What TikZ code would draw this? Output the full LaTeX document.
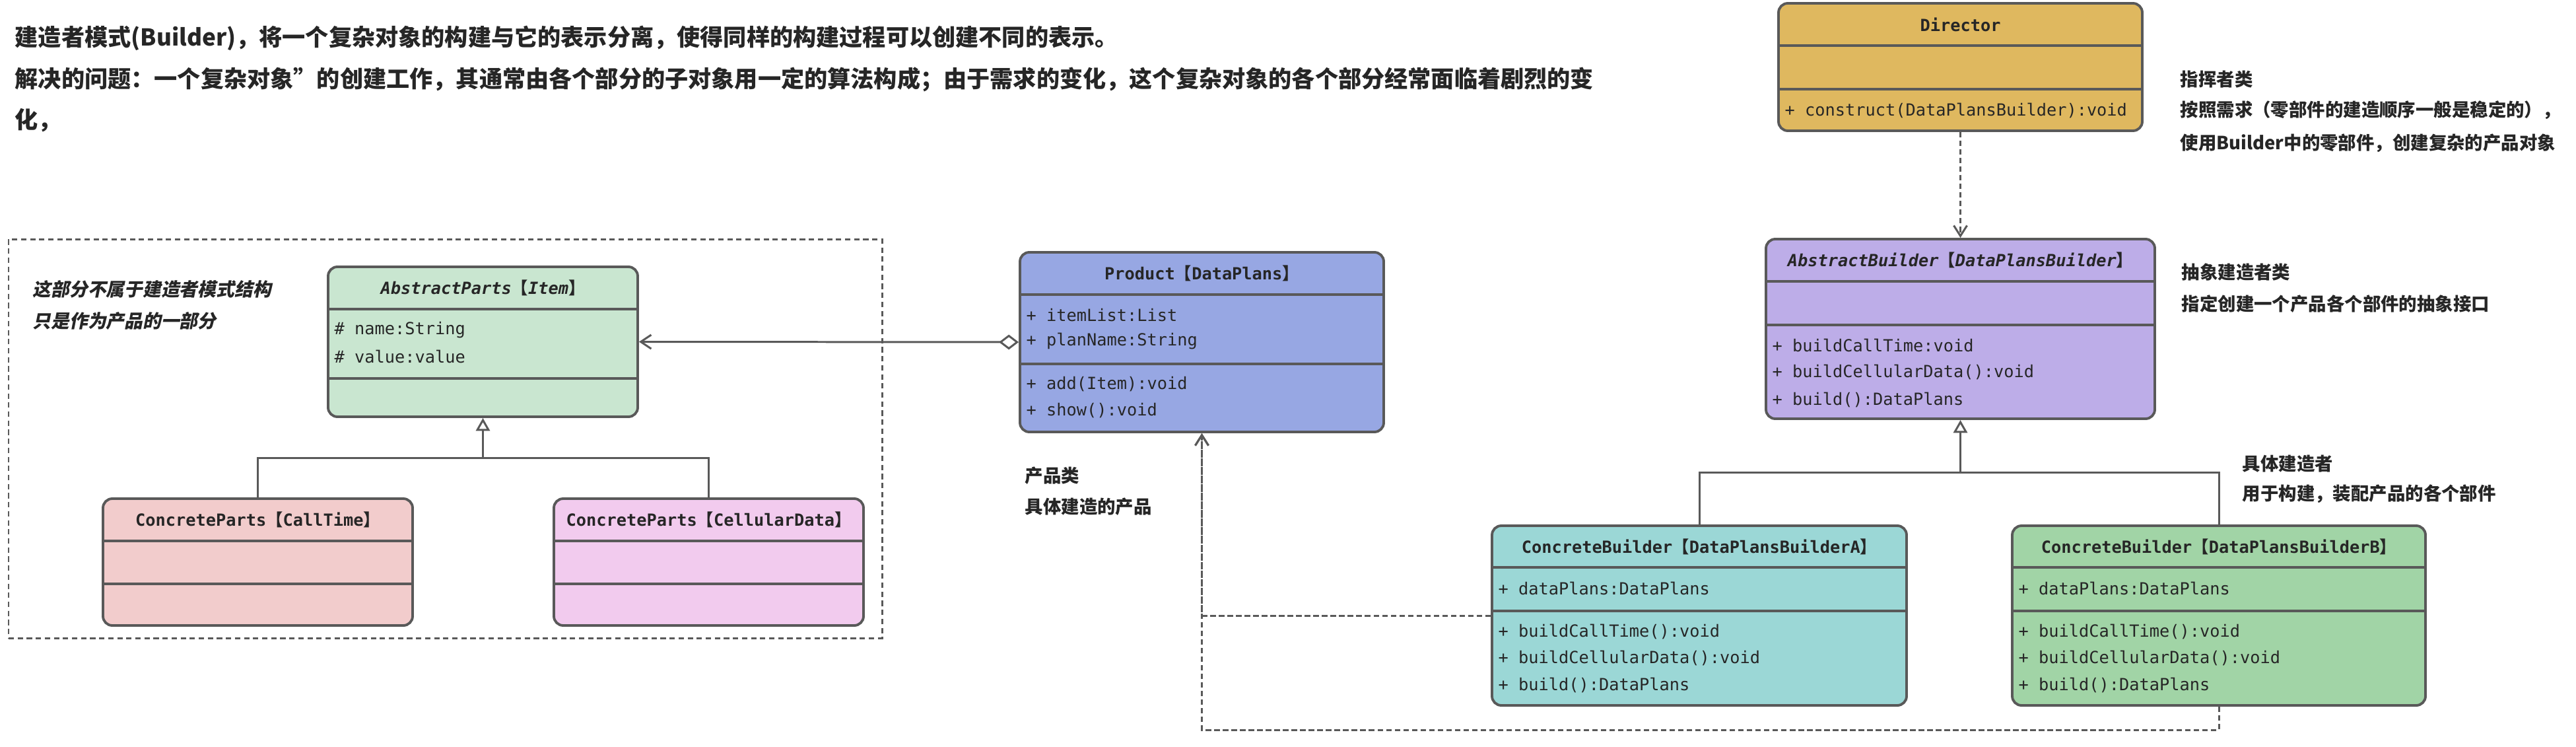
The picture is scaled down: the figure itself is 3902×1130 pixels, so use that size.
\documentclass[tikz,border=0pt]{standalone}
\usepackage{fontspec}
\setmainfont{Noto Sans CJK SC}
\setmonofont{DejaVu Sans Mono}
\newfontfamily\cjkslant{Noto Sans CJK SC}[FakeSlant=0.2]
\usetikzlibrary{arrows.meta, fit, calc}
\definecolor{ink}{HTML}{262626}
\definecolor{wire}{HTML}{595959}
\definecolor{directorfill}{HTML}{DFB85F}
\definecolor{partsfill}{HTML}{C9E6D0}
\definecolor{calltimefill}{HTML}{F2CCCC}
\definecolor{cellularfill}{HTML}{F2CBEE}
\definecolor{productfill}{HTML}{97A7E3}
\definecolor{builderfill}{HTML}{BDADE8}
\definecolor{builderafill}{HTML}{9BD7D6}
\definecolor{builderbfill}{HTML}{A1D4A6}
\tikzset{
  %
  umlframe/.style={draw=wire, line width=1.1pt, rounded corners=4pt, inner sep=0pt},
  umlrule/.style={draw=wire, line width=1.1pt},
  umlhead/.style={font=\ttfamily\bfseries\fontsize{7.2}{8.6}\selectfont, text=ink, inner sep=0pt},
  member/.style={font=\ttfamily\fontsize{7.2}{8.6}\selectfont, text=ink, anchor=west, inner sep=0pt},
  %
  title/.style={font=\bfseries\fontsize{10}{12}\selectfont, text=ink, anchor=west, inner sep=0pt},
  note/.style={font=\bfseries\fontsize{7.8}{9}\selectfont, text=ink, anchor=west, inner sep=0pt},
  groupnote/.style={note, font=\cjkslant\bfseries\fontsize{7.9}{9}\selectfont},
  group/.style={draw=wire, line width=0.85pt, dash pattern=on 2.3pt off 1.6pt, inner sep=0pt},
  %
  dep/.style={draw=wire, line width=0.85pt, dash pattern=on 2.4pt off 1.3pt,
              -{Straight Barb[length=4.5pt, width=5.7pt]}},
  assoc/.style={draw=wire, line width=0.85pt,
                {Diamond[fill=white, length=8.5pt, width=6.5pt]}-{Straight Barb[length=4.5pt, width=6pt]}},
  genline/.style={draw=wire, line width=0.85pt},
  gen/.style={genline, -{Triangle[fill=white, length=5.5pt, width=6pt]}},
}
\newcommand{\lbk}{{\rmfamily 【}}
\newcommand{\rbk}{{\rmfamily 】}}
% name, fill, left, top, right, bottom, first rule, second rule, header
\newcommand{\umlclass}[9]{%
  \node[umlframe, fill=#2, fit={(#3,#4) (#5,#6)}] (#1) {};
  \draw[umlrule] (#3,#7) -- (#5,#7);
  \draw[umlrule] (#3,#8) -- (#5,#8);
  \node[umlhead] (#1-head) at ({(#3+#5)/2},{(#4+#7)/2}) {#9};
}

\begin{document}
\begin{tikzpicture}[x=0.01cm, y=-0.01cm]

  \useasboundingbox (0,0) rectangle (3902,1130);

  % ---- intro ------------------------------------------------------------
  \node[title] (intro1) at (22,58) {建造者模式(Builder)，将一个复杂对象的构建与它的表示分离，使得同样的构建过程可以创建不同的表示。};
  \node[title] (intro2) at (22,120) {解决的问题：一个复杂对象\symbol{34}的创建工作，其通常由各个部分的子对象用一定的算法构成；由于需求的变化，这个复杂对象的各个部分经常面临着剧烈的变};
  \node[title] (intro3) at (22,182) {化，};

  % ---- parts (outside the pattern) --------------------------------------
  \node[group, fit={(13,362) (1336,966)}] (partsgroup) {};
  \node[groupnote] (groupnote1) at (49,438) {这部分不属于建造者模式结构};
  \node[groupnote] (groupnote2) at (49,486) {只是作为产品的一部分};

  \umlclass{parts}{partsfill}{497}{404}{966}{631}{468}{573}{\itshape AbstractParts\lbk Item\rbk}
  \node[member] (parts-a1) at (506,500) {\# name:String};
  \node[member] (parts-a2) at (506,540) {\# value:value};

  \umlclass{calltime}{calltimefill}{156}{755}{625}{947}{819}{884}{ConcreteParts\lbk CallTime\rbk}
  \umlclass{cellular}{cellularfill}{839}{755}{1308}{947}{819}{884}{ConcreteParts\lbk CellularData\rbk}

  \coordinate (partsjoint) at (parts.south |- 0,693);
  \draw[genline] (calltime.north) |- (partsjoint) -| (cellular.north);
  \draw[gen] (partsjoint) -- (parts.south);

  % ---- product ----------------------------------------------------------
  \umlclass{product}{productfill}{1545}{382}{2096}{654}{446}{551}{Product\lbk DataPlans\rbk}
  \node[member] (product-a1) at (1554,477) {+ itemList:List};
  \node[member] (product-a2) at (1554,517) {+ planName:String};
  \node[member] (product-m1) at (1554,582) {+ add(Item):void};
  \node[member] (product-m2) at (1554,622) {+ show():void};
  \node[note] (productnote1) at (1552,720) {产品类};
  \node[note] (productnote2) at (1552,767) {具体建造的产品};

  \draw[assoc] (product.west) -- (parts.east);

  % ---- director ---------------------------------------------------------
  \umlclass{director}{directorfill}{2694}{5}{3245}{198}{69}{135}{Director}
  \node[member] (director-m1) at (2703,167) {+ construct(DataPlansBuilder):void};
  \node[note] (directornote1) at (3302,120) {指挥者类};
  \node[note] (directornote2) at (3302,167) {按照需求（零部件的建造顺序一般是稳定的），};
  \node[note] (directornote3) at (3302,217) {使用Builder中的零部件，创建复杂的产品对象};

  % ---- builders ---------------------------------------------------------
  \umlclass{builder}{builderfill}{2675}{362}{3264}{634}{426}{492}{\itshape AbstractBuilder\lbk DataPlansBuilder\rbk}
  \node[member] (builder-m1) at (2684,523) {+ buildCallTime:void};
  \node[member] (builder-m2) at (2684,563) {+ buildCellularData():void};
  \node[member] (builder-m3) at (2684,605) {+ build():DataPlans};
  \node[note] (buildernote1) at (3304,412) {抽象建造者类};
  \node[note] (buildernote2) at (3304,460) {指定创建一个产品各个部件的抽象接口};

  \umlclass{buildera}{builderafill}{2260}{796}{2888}{1068}{859}{925}{ConcreteBuilder\lbk DataPlansBuilderA\rbk}
  \node[member] (buildera-a1) at (2269,891) {+ dataPlans:DataPlans};
  \node[member] (buildera-m1) at (2269,956) {+ buildCallTime():void};
  \node[member] (buildera-m2) at (2269,996) {+ buildCellularData():void};
  \node[member] (buildera-m3) at (2269,1037) {+ build():DataPlans};

  \umlclass{builderb}{builderbfill}{3048}{796}{3674}{1068}{859}{925}{ConcreteBuilder\lbk DataPlansBuilderB\rbk}
  \node[member] (builderb-a1) at (3057,891) {+ dataPlans:DataPlans};
  \node[member] (builderb-m1) at (3057,956) {+ buildCallTime():void};
  \node[member] (builderb-m2) at (3057,996) {+ buildCellularData():void};
  \node[member] (builderb-m3) at (3057,1037) {+ build():DataPlans};
  \node[note] (concretenote1) at (3396,702) {具体建造者};
  \node[note] (concretenote2) at (3396,748) {用于构建，装配产品的各个部件};

  % ---- relations --------------------------------------------------------
  \draw[dep] (director.south) -- (builder.north);

  \coordinate (builderjoint) at (builder.south |- 0,715);
  \draw[genline] (buildera.north) |- (builderjoint) -| (builderb.north);
  \draw[gen] (builderjoint) -- (builder.south);

  \coordinate (bturn) at (builderb.south |- 0,1105);
  \draw[dep] (buildera.west) -| (product.south);
  \draw[dep] (builderb.south) -- (bturn) -| (product.south);

\end{tikzpicture}
\end{document}
